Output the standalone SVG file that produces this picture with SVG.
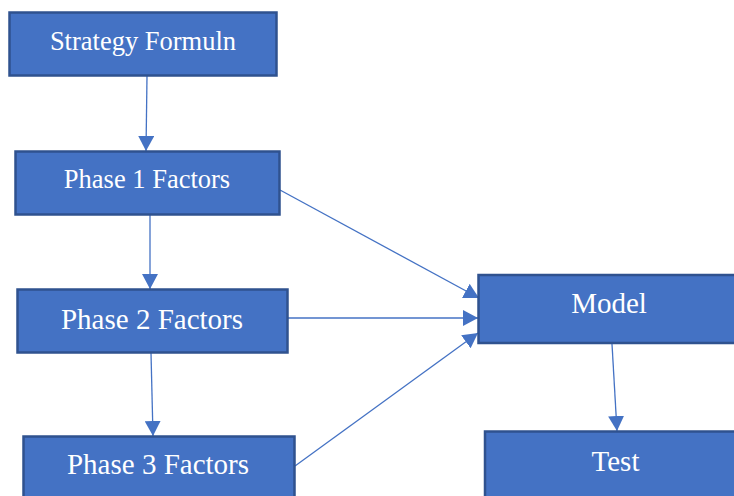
<svg xmlns="http://www.w3.org/2000/svg" width="734" height="496" viewBox="0 0 734 496">
<style>
.box{fill:#4472C4;stroke:#2F528F;stroke-width:2.5}
.lbl{fill:#fff;font-family:"Liberation Serif",serif;text-anchor:middle}
.s{font-size:26.5px}
.l{font-size:29px}
.con line{stroke:#4472C4;stroke-width:1.3;fill:none}
</style>
<defs>
<marker id="arr" markerUnits="userSpaceOnUse" markerWidth="16" markerHeight="16" viewBox="0 0 16 16" refX="15" refY="8" orient="auto">
<path d="M0,0 L15,8 L0,16 Z" fill="#4472C4"/>
</marker>
</defs>
<rect width="734" height="496" fill="#fff"/>
<g class="con">
<line x1="147" y1="76" x2="146" y2="151" marker-end="url(#arr)"/>
<line x1="150" y1="215" x2="150" y2="289" marker-end="url(#arr)"/>
<line x1="151" y1="353" x2="153" y2="436" marker-end="url(#arr)"/>
<line x1="280" y1="190" x2="479" y2="298" marker-end="url(#arr)"/>
<line x1="288" y1="318" x2="478" y2="318" marker-end="url(#arr)"/>
<line x1="295" y1="466" x2="478" y2="333" marker-end="url(#arr)"/>
<line x1="612" y1="344" x2="617" y2="431" marker-end="url(#arr)"/>
</g>
<g id="strategy"><rect class="box" x="9.5" y="12.5" width="267" height="63"/><text class="lbl s" x="143" y="50">Strategy Formuln</text></g>
<g id="phase1"><rect class="box" x="15.5" y="151.5" width="264" height="63"/><text class="lbl s" x="147" y="188">Phase 1 Factors</text></g>
<g id="phase2"><rect class="box" x="17.5" y="289.5" width="270" height="63"/><text class="lbl l" x="152" y="329">Phase 2 Factors</text></g>
<g id="phase3"><rect class="box" x="23.5" y="436.5" width="271" height="66"/><text class="lbl l" x="158" y="474">Phase 3 Factors</text></g>
<g id="model"><rect class="box" x="478.5" y="275" width="262" height="68"/><text class="lbl l" x="609" y="313">Model</text></g>
<g id="test"><rect class="box" x="485" y="431.5" width="262" height="70"/><text class="lbl l" x="615.5" y="471">Test</text></g>
</svg>
